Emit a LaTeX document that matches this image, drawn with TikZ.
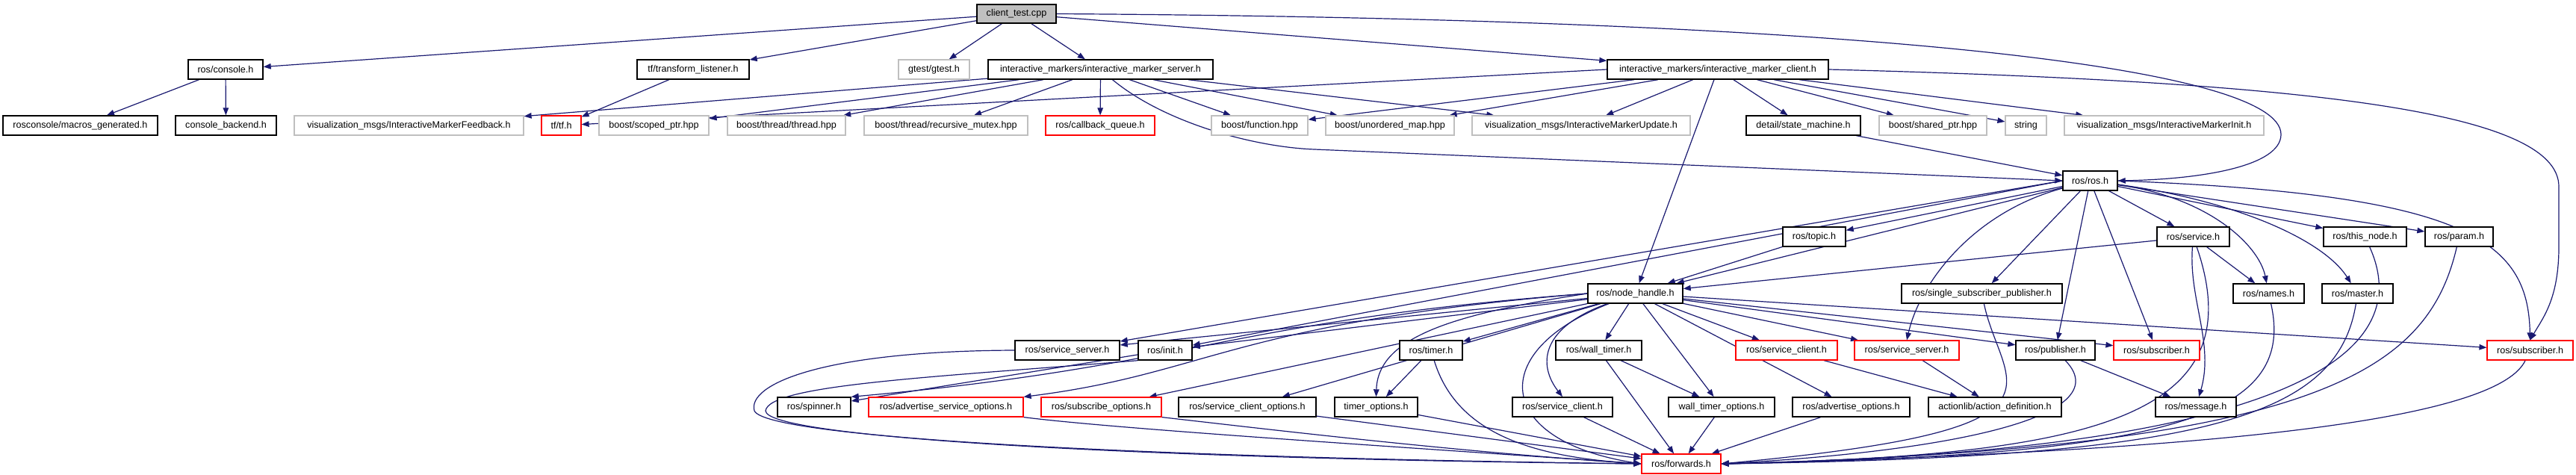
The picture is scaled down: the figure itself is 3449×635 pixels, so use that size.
\documentclass[tikz,border=0pt]{standalone}
\usepackage{fontspec}
\setmainfont{Liberation Sans}
\usetikzlibrary{arrows.meta}
\definecolor{edgeblue}{HTML}{191970}
\definecolor{boxgray}{HTML}{BFBFBF}
\pgfdeclarelayer{edgelayer}
\pgfsetlayers{edgelayer,main}
\begin{document}
\begin{tikzpicture}[x=1pt,y=-1pt,
  box/.style={draw=black, line width=1.4pt, minimum height=26pt, inner xsep=1pt, inner ysep=0pt, font=\fontsize{12.6}{14}\selectfont, fill=white},
  gbox/.style={box, draw=boxgray, line width=1.2pt},
  rbox/.style={box, draw=red, line width=1.2pt},
  e/.style={draw=edgeblue, line width=1.2pt, -{Triangle[length=10pt,width=7.5pt]}}]
\useasboundingbox (0,0) rectangle (3449,635);
% row 1
\node[box, fill=boxgray, minimum width=106pt, minimum height=25pt] (ct) at (1361,18.5) {client\_test.cpp};
% row 2
\node[box, minimum width=100pt] (console) at (302,93) {ros/console.h};
\node[box, minimum width=150pt] (tfl) at (928,93) {tf/transform\_listener.h};
\node[gbox, minimum width=95pt] (gtest) at (1250.5,93) {gtest/gtest.h};
\node[box, minimum width=301pt] (srv) at (1473.5,93) {interactive\_markers/interactive\_marker\_server.h};
\node[box, minimum width=296pt] (cli) at (2300,93) {interactive\_markers/interactive\_marker\_client.h};
% row 3
\node[box, minimum width=207pt] (macros) at (107.5,168) {rosconsole/macros\_generated.h};
\node[box, minimum width=135pt] (backend) at (302.5,168) {console\_backend.h};
\node[gbox, minimum width=307pt] (feedback) at (547.5,168) {visualization\_msgs/InteractiveMarkerFeedback.h};
\node[rbox, minimum width=53pt] (tf) at (751.5,168) {tf/tf.h};
\node[gbox, minimum width=147pt] (scoped) at (875.5,168) {boost/scoped\_ptr.hpp};
\node[gbox, minimum width=158pt] (thread) at (1053,168) {boost/thread/thread.hpp};
\node[gbox, minimum width=219pt] (recmutex) at (1266.5,168) {boost/thread/recursive\_mutex.hpp};
\node[rbox, minimum width=146pt] (cbq) at (1473,168) {ros/callback\_queue.h};
\node[gbox, minimum width=129pt] (function) at (1686.5,168) {boost/function.hpp};
\node[gbox, minimum width=172pt] (unordered) at (1861,168) {boost/unordered\_map.hpp};
\node[gbox, minimum width=292pt] (update) at (2117,168) {visualization\_msgs/InteractiveMarkerUpdate.h};
\node[box, minimum width=153pt] (sm) at (2414.5,168) {detail/state\_machine.h};
\node[gbox, minimum width=144pt] (shared) at (2588,168) {boost/shared\_ptr.hpp};
\node[gbox, minimum width=55pt] (string) at (2712.5,168) {string};
\node[gbox, minimum width=267pt] (initmsg) at (2897.5,168) {visualization\_msgs/InteractiveMarkerInit.h};
% row 4
\node[box, minimum width=73pt] (ros) at (2798.5,242) {ros/ros.h};
% row 5
\node[box, minimum width=84pt] (topic) at (2429,317) {ros/topic.h};
\node[box, minimum width=97pt] (service) at (2936.5,317) {ros/service.h};
\node[box, minimum width=111pt] (thisnode) at (3166.5,317) {ros/this\_node.h};
\node[box, minimum width=91pt] (param) at (3292.5,317) {ros/param.h};
% row 6
\node[box, minimum width=127pt] (nh) at (2189.5,393) {ros/node\_handle.h};
\node[box, minimum width=215pt] (ssp) at (2653.5,393) {ros/single\_subscriber\_publisher.h};
\node[box, minimum width=95pt] (names) at (3037.5,393) {ros/names.h};
\node[box, minimum width=95pt] (master) at (3156.5,393) {ros/master.h};
% row 7
\node[box, minimum width=140pt] (ssb) at (1429,469) {ros/service\_server.h};
\node[box, minimum width=72pt] (init) at (1560,469) {ros/init.h};
\node[box, minimum width=84pt] (timer) at (1916,469) {ros/timer.h};
\node[box, minimum width=115pt] (wtimer) at (2140.5,469) {ros/wall\_timer.h};
\node[rbox, minimum width=136pt] (scr) at (2392,469) {ros/service\_client.h};
\node[rbox, minimum width=140pt] (ssr) at (2553,469) {ros/service\_server.h};
\node[box, minimum width=106pt] (pub) at (2752,469) {ros/publisher.h};
\node[rbox, minimum width=115pt] (sub1) at (2887.5,469) {ros/subscriber.h};
\node[rbox, minimum width=115pt] (sub2) at (3387.5,469) {ros/subscriber.h};
% row 8
\node[box, minimum width=98pt] (spinner) at (1090,545) {ros/spinner.h};
\node[rbox, minimum width=207pt] (aso) at (1266.5,545) {ros/advertise\_service\_options.h};
\node[rbox, minimum width=161pt] (so) at (1474.5,545) {ros/subscribe\_options.h};
\node[box, minimum width=184pt] (sco) at (1670,545) {ros/service\_client\_options.h};
\node[box, minimum width=111pt] (tmo) at (1842.5,545) {timer\_options.h};
\node[box, minimum width=134pt] (scb) at (2092,545) {ros/service\_client.h};
\node[box, minimum width=142pt] (wto) at (2305,545) {wall\_timer\_options.h};
\node[box, minimum width=157pt] (ao) at (2478.5,545) {ros/advertise\_options.h};
\node[box, minimum width=178pt] (ad) at (2671,545) {actionlib/action\_definition.h};
\node[box, minimum width=108pt] (msg) at (2940,545) {ros/message.h};
% row 9
\node[rbox, minimum width=106pt] (fwd) at (2251,621) {ros/forwards.h};

% ---- edges ----
\begin{pgfonlayer}{edgelayer}
\draw[e] (ct) -- (console);
\draw[e] (ct) -- (tfl);
\draw[e] (ct) -- (gtest);
\draw[e] (ct) -- (srv);
\draw[e] (ct) -- (cli);
\draw[e] (ct.east) .. controls (2500,25) and (3054,90) .. (3054,180) .. controls (3054,222) and (2950,240) .. (ros.east);
\draw[e] (console) -- (macros);
\draw[e] (console) -- (backend);
\draw[e] (tfl) -- (tf);
% server
\draw[e] (srv) -- (feedback);
\draw[e] (srv) -- (scoped);
\draw[e] (srv) -- (thread);
\draw[e] (srv) -- (recmutex);
\draw[e] (srv) -- (cbq);
\draw[e] (srv) -- (function);
\draw[e] (srv) -- (unordered);
\draw[e] (srv) -- (update);
\draw[e] ([xshift=16pt]srv.south) .. controls (1560,165) and (1680,197) .. (1760,200) -- (ros.west);
% client
\draw[e] (cli.west) -- (tf);
\draw[e] (cli) -- (function);
\draw[e] (cli) -- (unordered);
\draw[e] (cli) -- (update);
\draw[e] (cli) -- (nh);
\draw[e] (cli) -- (sm);
\draw[e] (cli) -- (shared);
\draw[e] (cli) -- (string);
\draw[e] (cli) -- (initmsg);
\draw[e] (cli.east) .. controls (3100,110) and (3426,150) .. (3426,250) -- (3426,330) .. controls (3426,400) and (3405,425) .. (sub2.north);
\draw[e] (sm) -- (ros);
% ros.h
\draw[e] (ros) -- (topic);
\draw[e] (ros) -- (nh);
\draw[e] (ros.west) -- (ssb);
\draw[e] (ros.west) -- (init);
\draw[e] (ros) .. controls (2640,285) and (2570,380) .. (ssr.north);
\draw[e] (ros) -- (ssp);
\draw[e] (ros) -- (pub);
\draw[e] (ros) -- (sub1);
\draw[e] (ros) -- (service);
\draw[e] (ros) .. controls (2960,265) and (3025,330) .. (names);
\draw[e] (ros) .. controls (2990,268) and (3110,320) .. (master);
\draw[e] (ros) -- (thisnode);
\draw[e] (ros) -- (param);
\draw[e] (ros.east) .. controls (3300,260) and (3385,320) .. (sub2.north);
\draw[e] (topic) -- (nh);
% service
\draw[e] (service) -- (nh);
\draw[e] (service) -- (names);
\draw[e] (service) .. controls (2930,400) and (2965,460) .. (msg);
\draw[e] (service) .. controls (3020,560) and (2800,610) .. (fwd.east);
% node_handle
\draw[e] (nh) -- (timer);
\draw[e] (nh) -- (wtimer);
\draw[e] (nh) -- (scr);
\draw[e] (nh) -- (ssr);
\draw[e] (nh) -- (pub);
\draw[e] (nh) -- (sub1);
\draw[e] (nh) -- (sub2);
\draw[e] (nh) -- (wto);
\draw[e] (nh) -- (ao);
\draw[e] (nh.west) .. controls (1950,420) and (1845,450) .. (tmo.north);
\draw[e] (nh) .. controls (2060,440) and (2060,490) .. (scb.north);
\draw[e] (nh) .. controls (1990,470) and (2000,590) .. (fwd.west);
\draw[e] (nh) -- (ssb);
\draw[e] (nh) -- (init);
\draw[e] (nh.west) .. controls (1640,430) and (1600,490) .. (spinner.north east);
\draw[e] (nh.west) .. controls (1650,432) and (1620,500) .. (aso.north east);
\draw[e] (nh) -- (so);
\draw[e] (nh) -- (sco);
% timers
\draw[e] (timer) -- (tmo);
\draw[e] (timer) .. controls (1950,580) and (2050,612) .. (fwd.west);
\draw[e] (wtimer) -- (wto);
\draw[e] (wtimer) -- (fwd);
% service client/server red
\draw[e] (scr) -- (ad);
\draw[e] (ssr) -- (ad);
% publisher etc
\draw[e] (pub) -- (msg);
\draw[e] (pub) .. controls (2840,560) and (2600,605) .. (fwd.east);
\draw[e] (ssp) .. controls (2680,520) and (2800,575) .. (fwd.east);
\draw[e] (names) .. controls (3075,560) and (2900,610) .. (fwd.east);
\draw[e] (master) .. controls (3130,560) and (2950,612) .. (fwd.east);
\draw[e] (thisnode) .. controls (3240,480) and (3050,605) .. (fwd.east);
\draw[e] (param) .. controls (3250,500) and (3100,600) .. (fwd.east);
\draw[e] (sub2) .. controls (3340,570) and (2900,605) .. (fwd.east);
% left loops
\draw[e] (ssb.west) .. controls (1100,470) and (1000,515) .. (1010,550) .. controls (1025,585) and (1500,612) .. (fwd.west);
\draw[e] (init.south west) .. controls (1250,505) and (1030,515) .. (1025,550) .. controls (1025,585) and (1500,614) .. (fwd.west);
\draw[e] (init) -- (spinner);
% options -> forwards
\draw[e] (aso.south east) .. controls (1500,575) and (1900,600) .. (fwd.west);
\draw[e] (so.south east) .. controls (1700,575) and (1950,605) .. (fwd.west);
\draw[e] (sco) -- (fwd);
\draw[e] (tmo) -- (fwd);
\draw[e] (scb) -- (fwd);
\draw[e] (wto) -- (fwd);
\draw[e] (ao) -- (fwd);
\end{pgfonlayer}
\end{tikzpicture}
\end{document}
